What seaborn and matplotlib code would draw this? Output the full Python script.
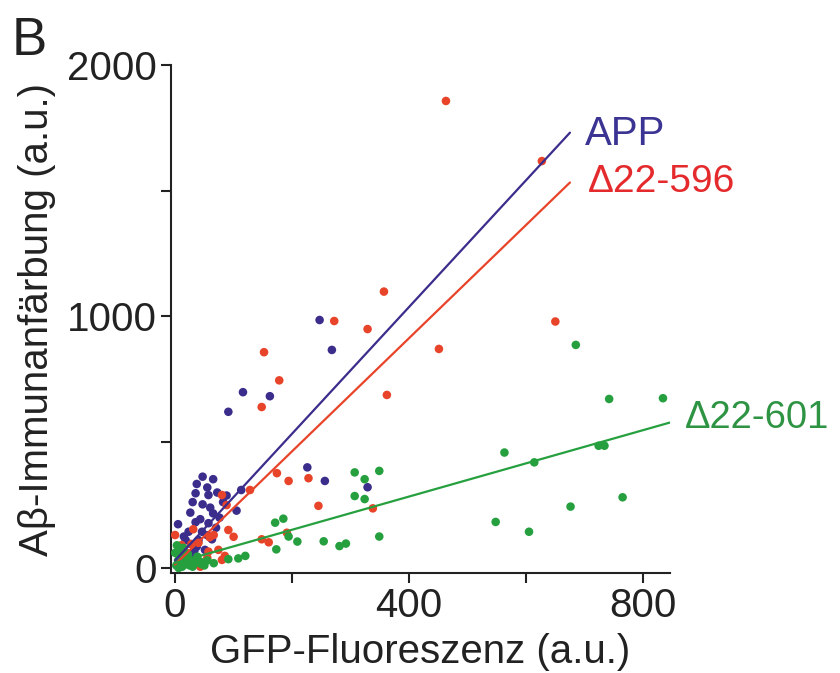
import numpy as np
import pandas as pd
import matplotlib
matplotlib.use("Agg")
import matplotlib.pyplot as plt
import seaborn as sns

# === Data (a.u.) ===
app_x = [247, 268, 116, 162, 91, 226, 256, 329, 113, 88, 105,
         47, 65, 37, 35, 57, 47, 26, 65, 43, 57, 5, 23, 46, 18, 40, 63,
         27, 37, 51, 12, 30, 20, 8, 70, 55, 33,
         30, 55, 72, 15, 76, 82, 60, 35]
app_y = [986, 867, 699, 683, 621, 400, 346, 321, 310, 288, 228,
         363, 353, 334, 297, 290, 253, 220, 217, 194, 178, 174, 144, 144, 111, 111, 114,
         95, 85, 72, 60, 50, 35, 20, 160, 130, 70,
         262, 320, 300, 125, 200, 262, 240, 182]

d596_x = [463, 627, 357, 650, 272, 152, 178, 451, 362, 148, 329,
          174, 194, 228, 245, 338, 128, 80, 88, 91, 100, 0, 31, 28, 74, 57, 80,
          43, 148, 160, 191, 85, 66, 59, 11, 20, 5, 40, 55]
d596_y = [1857, 1618, 1099, 980, 982, 858, 746, 871, 688, 640, 950,
          377, 346, 357, 247, 237, 310, 290, 250, 151, 124, 131, 154, 95, 72, 65, 32,
          5, 114, 102, 140, 48, 131, 122, 91, 60, 20, 100, 40]

d601_x = [685, 834, 742, 724, 734, 614, 563, 548, 605, 676, 765,
          307, 349, 324, 307, 324, 349, 171, 185, 194, 209, 254, 281, 292, 173,
          108, 120, 91, 66, 43,
          2, 5, 8, 10, 3, 12, 15, 18, 20, 25, 28, 30, 35, 22, 6, 0, 14, 38, 50, 55, 45]
d601_y = [887, 675, 672, 486, 486, 420, 459, 183, 144, 244, 281,
          380, 386, 353, 286, 274, 125, 180, 196, 125, 105, 106, 87, 97, 74,
          38, 48, 35, 19, 25,
          10, 30, 50, 70, 90, 5, 20, 40, 15, 10, 30, 5, 20, 55, 0, 60, 80, 45, 10, 30, 15]

# Linear fits shown in the figure
constructs = ["APP", "Δ22-596", "Δ22-601"]
fit_slope = [2.52, 2.25, 0.66]
fit_intercept = [30, 14, 20]
fit_xmax = [675, 675, 846]

colors = {"APP": "#3a2d8c", "Δ22-596": "#e8442a", "Δ22-601": "#26a03f"}
text_colors = {"APP": "#3b3493", "Δ22-596": "#e42a2c", "Δ22-601": "#2e9444"}

df = pd.concat([
    pd.DataFrame({"gfp": app_x, "abeta": app_y, "construct": "APP"}),
    pd.DataFrame({"gfp": d596_x, "abeta": d596_y, "construct": "Δ22-596"}),
    pd.DataFrame({"gfp": d601_x, "abeta": d601_y, "construct": "Δ22-601"}),
], ignore_index=True)

fits = pd.concat([
    pd.DataFrame({"gfp": [0, xm], "abeta": [b, b + m * xm], "construct": c})
    for c, m, b, xm in zip(constructs, fit_slope, fit_intercept, fit_xmax)
], ignore_index=True)

# === Plot ===
sns.set_style("ticks")
plt.rcParams["font.family"] = ["Liberation Sans", "DejaVu Sans"]

fig = plt.figure(figsize=(8.4, 6.73), dpi=100)
ax = fig.add_axes([0.2036, 0.1486, 0.594, 0.7548])

sns.scatterplot(data=df, x="gfp", y="abeta", hue="construct", palette=colors,
                s=38, linewidth=0, legend=False, ax=ax, zorder=3)
sns.lineplot(data=fits, x="gfp", y="abeta", hue="construct", palette=colors,
             linewidth=1.6, legend=False, ax=ax, zorder=4)

ax.set_xlim(-7, 846)
ax.set_ylim(-20, 2000)
ax.set_xticks([0, 400, 800])
ax.set_xticks([200, 600], minor=True)
ax.set_yticks([0, 1000, 2000])
ax.set_yticks([500, 1500], minor=True)
ax.tick_params(which="both", direction="out", length=7, width=1.5,
               labelsize=29, colors="#222222", pad=3)
for side in ["top", "right"]:
    ax.spines[side].set_visible(False)
for side in ["left", "bottom"]:
    ax.spines[side].set_linewidth(1.5)
    ax.spines[side].set_color("#222222")

ax.set_xlabel("GFP-Fluoreszenz (a.u.)", fontsize=29, color="#222222", labelpad=6)
ax.set_ylabel("Aβ-Immunanfärbung (a.u.)", fontsize=29, color="#222222", labelpad=8)

# line labels
ax.text(701, 1682, "APP", fontsize=29, color=text_colors["APP"], clip_on=False)
ax.text(706, 1495, "Δ22-596", fontsize=28, color=text_colors["Δ22-596"], clip_on=False)
ax.text(872, 557, "Δ22-601", fontsize=27.5, color=text_colors["Δ22-601"], clip_on=False)

fig.text(0.014, 0.918, "B", fontsize=38, color="#222222")

fig.savefig("out.png", dpi=100)
